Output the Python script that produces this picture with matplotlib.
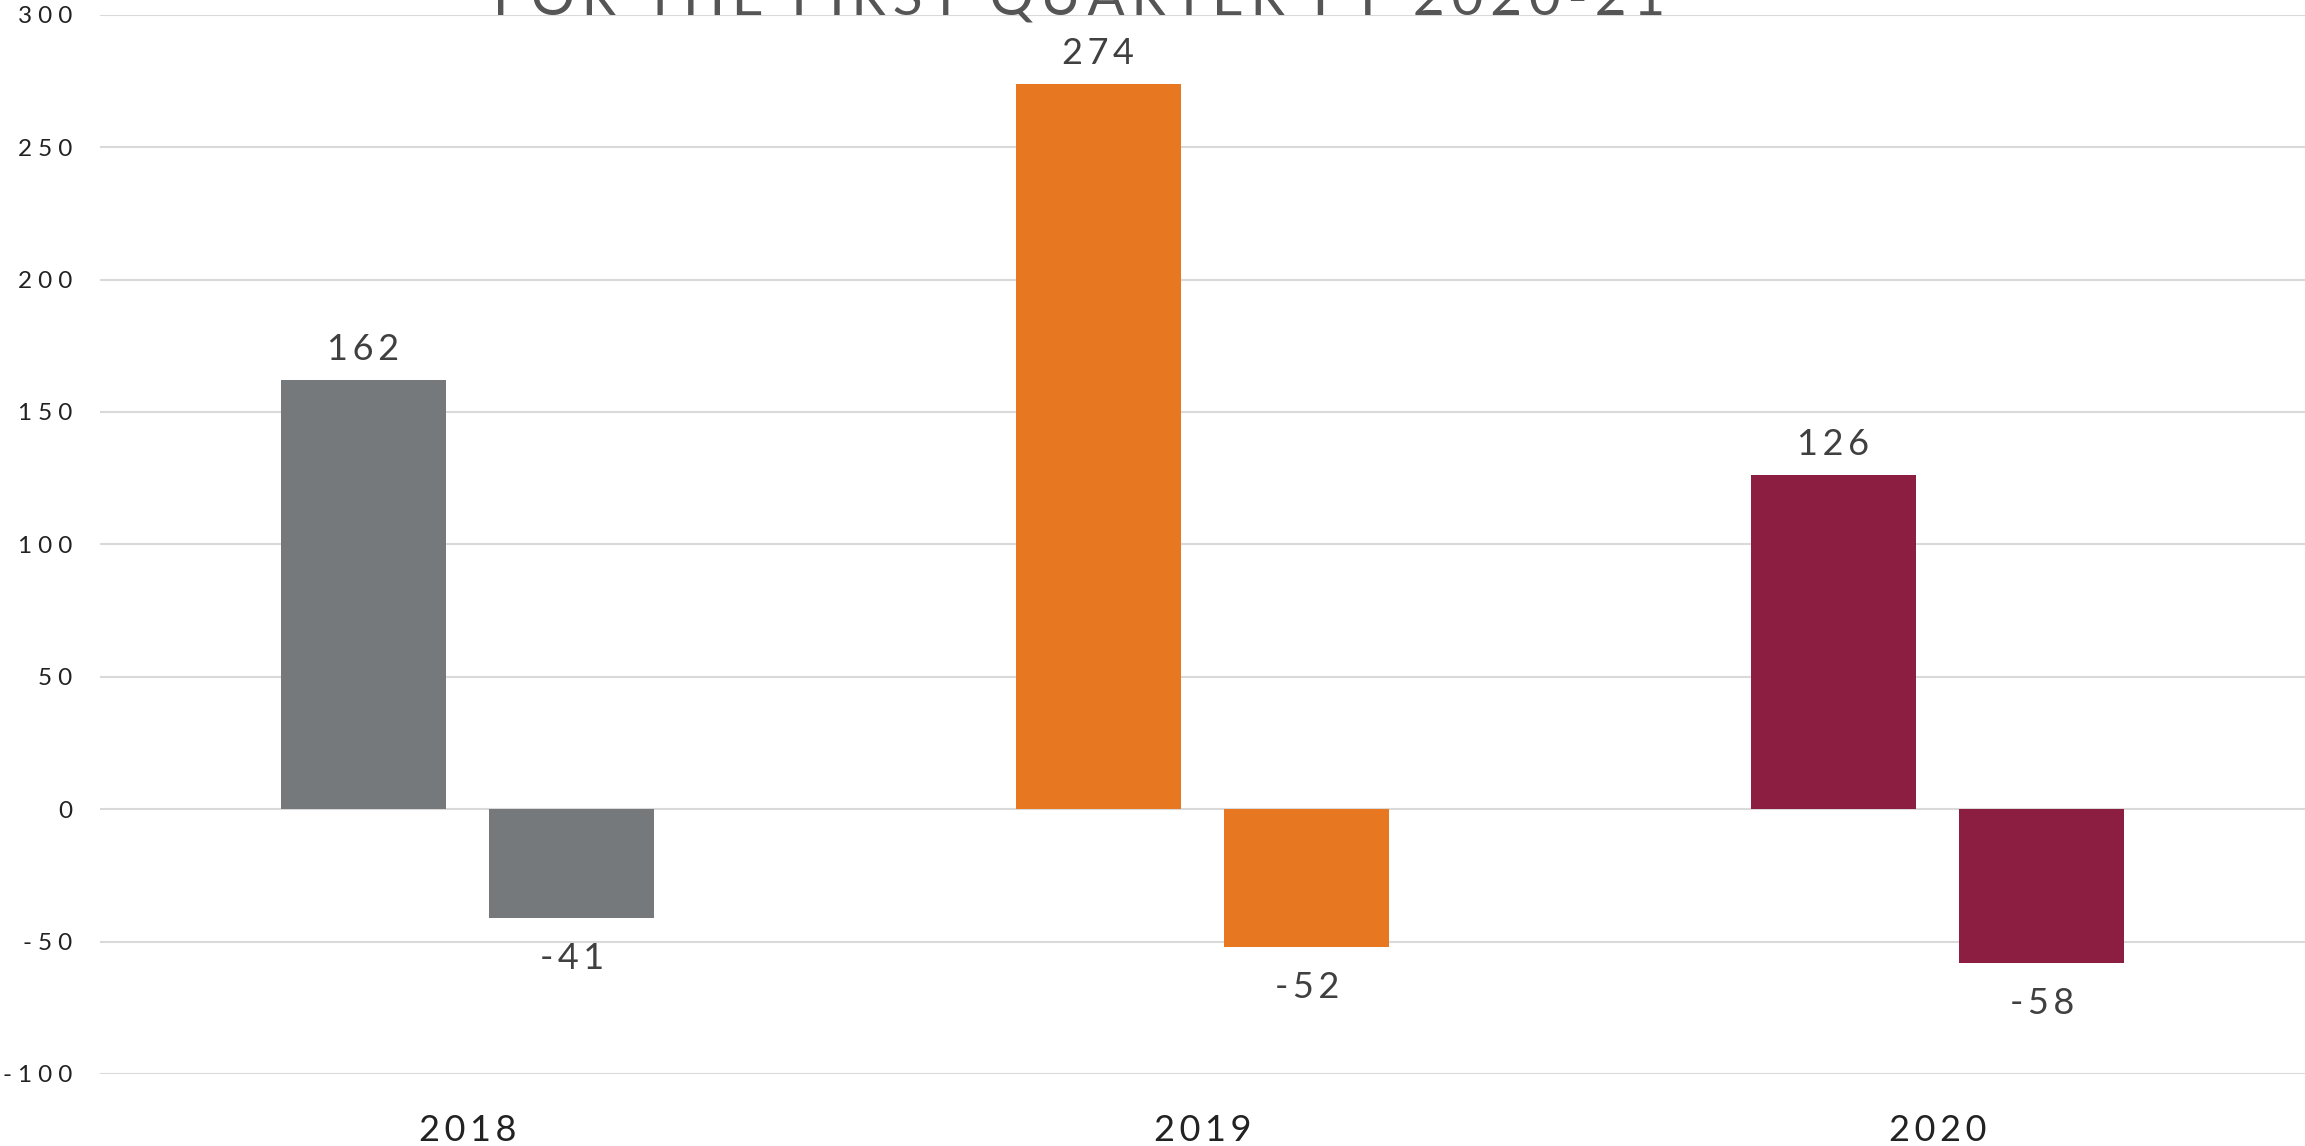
import matplotlib
matplotlib.use("Agg")
import matplotlib.pyplot as plt
import numpy as np
from matplotlib.transforms import offset_copy

# Chart data
years = ["2018", "2019", "2020"]
first_values = [162, 274, 126]
second_values = [-41, -52, -58]
year_colors = ["#76797B", "#E87722", "#8B1E41"]
y_ticks = [-100, -50, 0, 50, 100, 150, 200, 250, 300]
title_text = "FOR THE FIRST QUARTER FY 2020-21"

plt.rcParams["font.family"] = ["Lato", "DejaVu Sans"]

SP = "\u2009"


def spaced(s, n=1):
    """Widen tracking by placing thin spaces between characters."""
    return (SP * n).join(s)


DPI = 100
fig = plt.figure(figsize=(2305 / DPI, 1146 / DPI), dpi=DPI)
ax = fig.add_axes([100 / 2305, 1 - 1074 / 1146, 1 - 100 / 2305, (1074 - 14.7) / 1146])

x = np.arange(len(years))
width = 0.2245
offset = 0.142

bars1 = ax.bar(x - offset, first_values, width, color=year_colors, zorder=3)
bars2 = ax.bar(x + offset, second_values, width, color=year_colors, zorder=3)

ax.set_xlim(-0.5, 2.5)
ax.set_ylim(-100, 300)
ax.set_yticks(y_ticks)
ax.set_yticklabels([spaced(str(t), 2) for t in y_ticks], fontsize=17.5, color="#222222")
ax.set_xticks(x)
ax.set_xticklabels([spaced(y) for y in years], fontsize=26, color="#222222")
ax.tick_params(axis="y", length=0, pad=20)
ax.tick_params(axis="x", length=0, pad=29)

ax.grid(axis="y", color="#D9D9D9", linewidth=1.5, zorder=1)
ax.set_axisbelow(True)
for s in ax.spines.values():
    s.set_visible(False)

# Value labels
label_color = "#404040"
for b, v in zip(bars1, first_values):
    tr = offset_copy(ax.transData, fig=fig, x=0, y=20, units="dots")
    ax.text(b.get_x() + b.get_width() / 2, v, spaced(str(v)), transform=tr,
            ha="center", va="baseline", fontsize=26, color=label_color)
for b, v in zip(bars2, second_values):
    tr = offset_copy(ax.transData, fig=fig, x=0, y=-24, units="dots")
    ax.text(b.get_x() + b.get_width() / 2, v, spaced(str(v)), transform=tr,
            ha="center", va="top", fontsize=26, color=label_color)

# Title sitting at the very top edge
fig.text(1079 / 2305, 1 - 15 / 1146, spaced(title_text), ha="center", va="baseline",
         fontsize=39.5, color="#555555", zorder=0)

fig.savefig("out.png", dpi=DPI, facecolor="white")
